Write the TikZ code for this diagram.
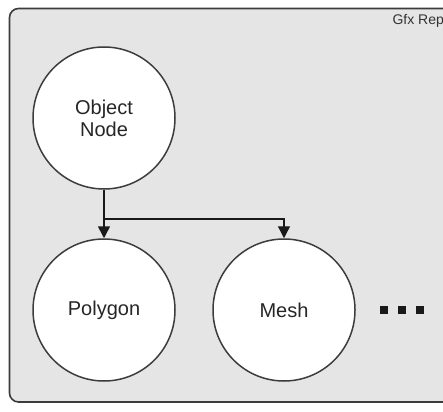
\documentclass[tikz,border=0pt]{standalone}
\usepackage{fontspec}
\setmainfont{Liberation Sans}
\usetikzlibrary{arrows.meta}
\definecolor{fond}{HTML}{E5E5E5}
\definecolor{trait}{HTML}{3C3C3C}

\begin{document}
\begin{tikzpicture}[x=1pt,y=-1pt]
	\tikzstyle{cadre}=[draw=trait,fill=fond,line width=1.6pt,rounded corners=9pt]
	\tikzstyle{rond}=[circle,draw=trait,fill=white,line width=1.5pt,minimum size=142pt,inner sep=0pt,font=\fontsize{20}{22}\selectfont,text=black!85]
	\tikzstyle{lien}=[draw=black!90,line width=1.6pt,-{Triangle[width=12pt,length=12pt]}]
	\tikzstyle{point}=[fill=black!90,minimum size=8pt,inner sep=0pt]
	\useasboundingbox (0,0) rectangle (443,411);
	\path[clip] (0,0) rectangle (443,411);
	\draw[cadre] (9.5,8.5) rectangle (470,402);
	\node[anchor=base west,font=\fontsize{14}{16}\selectfont,text=black!80] (titre) at (389,25){Gfx Rep};
	\node[rond,align=center] (objet) at (104,118){Object\\Node};
	\node[rond] (polygone) at (104,310){Polygon};
	\node[rond] (maillage) at (284,310){Mesh};
	\node[point] (p1) at (384,310){};
	\node[point] (p2) at (402,310){};
	\node[point] (p3) at (420,310){};
	\coordinate (fourche) at (104,219);
	\draw[lien] (objet) -- (polygone);
	\draw[lien,line width=1.4pt] (fourche) -| (maillage);
\end{tikzpicture}
\end{document}
